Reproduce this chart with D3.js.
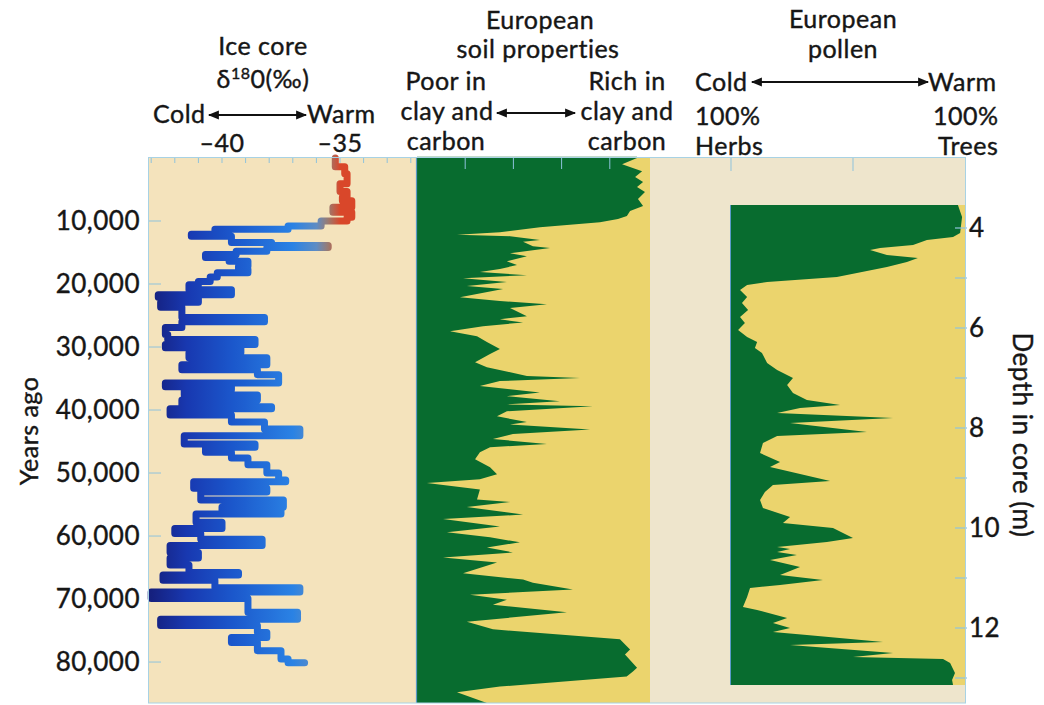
<!DOCTYPE html>
<html>
<head>
<meta charset="utf-8">
<script src="https://cdn.jsdelivr.net/npm/d3@7"></script>
<style>
  html, body { margin: 0; padding: 0; background: #ffffff; }
  svg text { font-family: "Lato", "Open Sans", sans-serif; fill: #161616; stroke: #161616; stroke-width: 0.4px; letter-spacing: 0.5px; }
</style>
</head>
<body>
<svg id="chart" width="1044" height="705"></svg>
<script>
// ---- Ice core oxygen isotope record (years ago, δ18O per mille) ----
const iceAge = [0,1400,2500,4100,5300,6200,6800,7800,8600,9400,10000,10800,11300,12100,12400,13400,13900,14200,14800,15300,15800,16400,17200,17700,18200,18900,19600,20100,20900,21700,22100,22900,23700,25300,26000,26900,28000,28800,29600,30100,30900,31700,32800,33600,34400,35700,36300,36800,37600,38400,39500,39800,40800,41900,43000,44100,45400,45900,46700,47600,48700,50000,51100,51400,52400,53000,54300,55400,56100,56500,57800,58800,59600,60500,61500,62600,63500,64600,65800,66200,67000,68200,68900,69900,72100,73200,74200,75300,76100,76900,78200,79500,80100];
const iceD18O = [-35.2,-34.8,-34.7,-35.0,-34.7,-34.9,-34.5,-35.3,-34.5,-34.7,-35.8,-37.2,-40.3,-41.3,-39.6,-37.9,-35.5,-38.1,-39.4,-40.7,-39.7,-38.9,-39.3,-38.9,-40.2,-40.5,-41.0,-41.4,-39.6,-42.7,-41.0,-42.6,-41.7,-38.2,-41.7,-42.4,-42.3,-38.6,-42.4,-39.2,-41.4,-38.1,-41.7,-38.5,-37.6,-42.4,-39.6,-41.6,-38.5,-41.7,-37.9,-42.2,-39.6,-38.2,-36.7,-41.6,-38.6,-40.7,-39.6,-38.9,-38.1,-37.6,-37.3,-41.2,-38.1,-40.9,-37.4,-40.0,-37.5,-41.1,-40.0,-42.0,-40.9,-38.3,-42.2,-41.0,-42.2,-41.4,-39.3,-42.5,-40.3,-36.7,-43.0,-38.9,-36.8,-42.6,-38.5,-38.1,-39.6,-38.5,-37.5,-37.2,-36.5];

// ---- European soil properties (years ago, clay/carbon index 0-100) ----
const soilAge = [0,1000,2100,3000,3800,4600,5400,6500,7600,8400,9200,9700,10200,11000,11800,12200,12400,13000,13300,14000,14300,15100,15600,16400,17000,17600,18100,18600,19100,19700,20300,20800,22100,22700,23200,23800,25100,25600,26100,26700,27500,28300,29200,30300,31100,32400,33200,34600,34900,35400,36200,36700,37200,37800,38600,39100,39400,40200,41000,41900,42300,43100,43800,44600,45400,45900,46700,47800,49100,50200,51000,51600,52600,54200,54600,55400,56600,57300,58500,59400,60200,61000,61800,62600,63400,64200,65900,66900,67400,68500,69300,70100,70900,72100,73600,74800,76400,78000,78800,80900,81500,82300,83900,84800,86500];
const soilIndex = [91.3,85.1,93.4,90.5,93.8,91.3,94.6,91.7,93.8,88.4,87.1,83.4,75.9,51.0,34.4,16.6,38.6,51.0,44.0,48.1,55.2,38.6,45.6,37.3,41.5,34.4,26.1,45.6,19.1,37.3,20.7,35.7,17.8,34.4,53.9,38.6,45.6,34.4,44.0,27.4,13.7,24.9,29.0,34.4,30.3,24.1,29.0,45.6,67.6,34.4,26.1,38.6,51.0,37.3,59.3,37.3,73.0,37.3,33.2,45.6,38.6,71.8,39.8,31.5,53.9,30.3,26.1,24.1,30.3,33.2,26.1,4.1,26.1,24.9,38.6,20.7,44.0,10.8,34.4,12.4,30.3,42.7,29.0,39.8,10.8,33.2,19.1,44.0,48.1,64.7,22.0,37.3,31.5,62.2,20.7,31.5,84.2,88.4,86.3,91.3,89.6,87.0,34.4,16.6,29.0];

// ---- European pollen (depth in core m, % tree pollen) ----
const pollenDepth = [3.54,3.78,4.10,4.18,4.24,4.34,4.40,4.44,4.54,4.60,4.68,4.78,4.98,5.08,5.14,5.24,5.38,5.50,5.64,5.78,5.90,6.04,6.18,6.28,6.40,6.50,6.70,6.84,7.00,7.14,7.30,7.44,7.54,7.60,7.70,7.80,7.90,8.08,8.16,8.30,8.50,8.68,8.78,9.06,9.14,9.28,9.44,9.60,9.78,9.90,10.00,10.20,10.28,10.38,10.42,10.48,10.54,10.64,10.78,10.94,11.04,11.14,11.20,11.38,11.58,11.64,11.80,11.90,12.00,12.08,12.14,12.28,12.34,12.50,12.58,12.62,12.70,12.90,13.04,13.14];
const pollenTrees = [93.0,94.7,93.9,91.0,80.3,74.6,61.1,57.0,63.9,76.6,72.1,63.9,43.4,14.8,6.6,3.7,6.6,4.5,7.0,3.7,5.7,2.9,6.6,10.7,9.8,12.7,14.8,18.9,25.4,23.0,25.4,31.1,44.7,28.3,18.9,66.4,24.2,55.7,18.9,13.1,11.9,20.1,16.0,40.6,17.2,13.9,11.9,13.1,24.2,21.3,41.8,50.0,39.3,18.9,24.2,18.9,27.0,16.0,28.3,20.1,37.7,20.1,7.8,6.6,4.9,10.7,23.0,17.2,24.2,17.2,31.1,62.3,24.2,66.4,50.0,86.9,89.8,91.8,90.6,91.0];

// ---- Axis ticks ----
const ageTicks = [10000,20000,30000,40000,50000,60000,70000,80000];
const iceTicks = [-43,-42,-41,-40,-39,-38,-37,-36,-35,-34,-33,-32];
const iceLabels = [-40,-35];
const soilTicks = [20,40,60,80];
const pollenTicks = [0,50];
const depthTicks = [4,5,6,7,8,9,10,11,12,13];
const depthLabels = [4,6,8,10,12];

// ---- Layout ----
const panelTop = 157, panelBottom = 703;
const iceLeft = 148, iceRight = 416;
const soilLeft = 417, soilRight = 650;
const pollenRight = 966;

const C = {
  iceBg: "#f4e3bc", paleBg: "#eee5cc", green: "#086c2f", yellow: "#ebd46d",
  frame: "#a8d2e4", tick: "#8fc3dc"
};

const svg = d3.select("#chart");

const yAge = d3.scaleLinear().domain([0, 86500]).range([158, 703]);
const xIce = d3.scaleLinear().domain([-40, -35]).range([222, 340]);
const xSoil = d3.scaleLinear().domain([0, 100]).range([soilLeft, 658]);
const xPollen = d3.scaleLinear().domain([0, 100]).range([731, 975]);
const yDepth = d3.scaleLinear().domain([4, 12]).range([228, 628]);

// backgrounds
svg.append("rect").attr("x", iceLeft).attr("y", panelTop).attr("width", iceRight - iceLeft).attr("height", panelBottom - panelTop).attr("fill", C.iceBg);
svg.append("rect").attr("x", soilRight).attr("y", panelTop).attr("width", pollenRight - soilRight).attr("height", panelBottom - panelTop).attr("fill", C.paleBg);

// ---- Soil panel ----
svg.append("rect").attr("x", soilLeft).attr("y", panelTop).attr("width", soilRight - soilLeft).attr("height", panelBottom - panelTop).attr("fill", C.yellow);
const soilData = soilAge.map((a, i) => ({ a, v: soilIndex[i] }));
const soilArea = d3.area()
  .y(d => yAge(d.a))
  .x0(xSoil(0))
  .x1(d => xSoil(d.v));
svg.append("path").datum([{ a: -200, v: soilData[0].v }, ...soilData]).attr("d", soilArea).attr("fill", C.green);
svg.append("g").selectAll("line").data(soilTicks).join("line")
  .attr("x1", d => xSoil(d)).attr("x2", d => xSoil(d))
  .attr("y1", panelTop).attr("y2", panelTop + 12)
  .attr("stroke", C.tick).attr("stroke-width", 1);
svg.append("line").attr("x1", soilLeft - 0.5).attr("x2", soilLeft - 0.5).attr("y1", panelTop).attr("y2", panelBottom)
  .attr("stroke", "#5a9ac8").attr("stroke-width", 1.2);

// ---- Pollen panel ----
const pTop = yDepth(pollenDepth[0]), pBot = yDepth(pollenDepth[pollenDepth.length - 1]);
svg.append("rect").attr("x", xPollen(0)).attr("y", pTop).attr("width", pollenRight - xPollen(0)).attr("height", pBot - pTop).attr("fill", C.yellow);
const pollenData = pollenDepth.map((d, i) => ({ d, v: pollenTrees[i] }));
const pollenArea = d3.area()
  .y(d => yDepth(d.d))
  .x0(xPollen(0))
  .x1(d => xPollen(d.v));
svg.append("path").datum(pollenData).attr("d", pollenArea).attr("fill", C.green);
svg.append("line").attr("x1", xPollen(0) - 0.5).attr("x2", xPollen(0) - 0.5).attr("y1", pTop).attr("y2", pBot)
  .attr("stroke", "#5a9ac8").attr("stroke-width", 1);
svg.append("g").selectAll("line").data(pollenTicks).join("line")
  .attr("x1", d => xPollen(d)).attr("x2", d => xPollen(d))
  .attr("y1", panelTop).attr("y2", panelTop + 14)
  .attr("stroke", C.tick).attr("stroke-width", 1);

// depth axis on the right
svg.append("g").selectAll("line").data(depthTicks).join("line")
  .attr("x1", pollenRight - 11).attr("x2", pollenRight + 1)
  .attr("y1", d => yDepth(d)).attr("y2", d => yDepth(d))
  .attr("stroke", C.tick).attr("stroke-width", 1.2);
svg.append("g").selectAll("text").data(depthLabels).join("text")
  .attr("x", pollenRight + 3).attr("y", d => yDepth(d)).attr("dy", "0.36em")
  .attr("font-size", 26).text(d => d);
svg.append("text")
  .attr("transform", `translate(1013,435) rotate(90)`)
  .attr("text-anchor", "middle").attr("font-size", 26)
  .text("Depth in core (m)");

// ---- Ice core panel ----
svg.append("g").selectAll("line").data(iceTicks).join("line")
  .attr("x1", d => xIce(d)).attr("x2", d => xIce(d))
  .attr("y1", panelTop).attr("y2", panelTop + 6)
  .attr("stroke", C.tick).attr("stroke-width", 1);
svg.append("g").selectAll("line").data(ageTicks).join("line")
  .attr("x1", iceLeft).attr("x2", iceLeft + 13)
  .attr("y1", d => yAge(d)).attr("y2", d => yAge(d))
  .attr("stroke", C.tick).attr("stroke-width", 1);

// colour runs from cold (dark blue) to warm (red) along the δ18O axis
const tempColor = d3.scaleLinear()
  .domain([-43, -41.5, -39.5, -37, -36, -35.5, -35])
  .range(["#15207e", "#1838b0", "#1b58cc", "#2a82e4", "#5d8cc4", "#9a7a70", "#d9472a"]);
const defs = svg.append("defs");
const grad = defs.append("linearGradient").attr("id", "iceGrad")
  .attr("gradientUnits", "userSpaceOnUse")
  .attr("x1", xIce(-43.5)).attr("x2", xIce(-34)).attr("y1", 0).attr("y2", 0);
const gStops = d3.range(-43.5, -33.9, 0.25);
grad.selectAll("stop").data(gStops).join("stop")
  .attr("offset", d => (d + 43.5) / 9.5)
  .attr("stop-color", d => tempColor(Math.max(-43, Math.min(-35, d))));

const iceData = iceAge.map((a, i) => ({ a, v: iceD18O[i] }));
const iceLine = d3.line().curve(d3.curveStepBefore).x(d => xIce(d.v)).y(d => yAge(d.a));
svg.append("path").datum(iceData).attr("d", iceLine)
  .attr("fill", "none").attr("stroke", "url(#iceGrad)")
  .attr("stroke-width", 7).attr("stroke-linejoin", "round").attr("stroke-linecap", "round");

// frame
svg.append("rect").attr("x", iceLeft + 0.5).attr("y", panelTop + 0.5)
  .attr("width", pollenRight - iceLeft - 1).attr("height", panelBottom - panelTop - 0.5)
  .attr("fill", "none").attr("stroke", C.frame).attr("stroke-width", 1);

// age labels
svg.append("g").selectAll("text").data(ageTicks).join("text")
  .attr("x", 140).attr("y", d => yAge(d)).attr("dy", "0.36em")
  .attr("text-anchor", "end").attr("font-size", 26)
  .text(d => d3.format(",")(d));
svg.append("text")
  .attr("transform", `translate(38,431) rotate(-90)`)
  .attr("text-anchor", "middle").attr("font-size", 25)
  .text("Years ago");

// ---- Headers ----
const fs = 25;
function label(x, y, txt, anchor) {
  return svg.append("text").attr("x", x).attr("y", y)
    .attr("text-anchor", anchor || "middle").attr("font-size", fs).text(txt);
}
defs.append("marker").attr("id", "head").attr("viewBox", "0 0 10 10")
  .attr("refX", 9).attr("refY", 5).attr("markerWidth", 6.5).attr("markerHeight", 5)
  .attr("markerUnits", "strokeWidth").attr("orient", "auto-start-reverse")
  .append("path").attr("d", "M0,1 L10,5 L0,9 Z").attr("fill", "#111");
function arrow(x1, x2, y) {
  svg.append("line").attr("x1", x1).attr("x2", x2).attr("y1", y).attr("y2", y)
    .attr("stroke", "#111").attr("stroke-width", 2.2)
    .attr("marker-start", "url(#head)").attr("marker-end", "url(#head)");
}

// ice core header
label(263, 55, "Ice core");
const dl = svg.append("text").attr("x", 263).attr("y", 88).attr("text-anchor", "middle").attr("font-size", fs);
dl.append("tspan").text("δ");
dl.append("tspan").attr("font-size", 16).attr("dy", -9).text("18");
dl.append("tspan").attr("dy", 9).text("0(‰)");
label(153, 123, "Cold", "start");
arrow(209, 306, 115);
label(307, 123, "Warm", "start");
svg.append("g").selectAll("text").data(iceLabels).join("text")
  .attr("x", d => xIce(d)).attr("y", 152).attr("text-anchor", "middle").attr("font-size", fs)
  .text(d => "\u2013" + Math.abs(d));

// soil header
label(540, 29, "European");
label(538, 58, "soil properties");
label(446, 90, "Poor in");
label(447, 120, "clay and");
label(446, 150, "carbon");
arrow(497, 575, 113);
label(627, 90, "Rich in");
label(627, 120, "clay and");
label(627, 150, "carbon");

// pollen header
label(843, 28, "European");
label(843, 58, "pollen");
label(695, 91, "Cold", "start");
arrow(752, 928, 82);
label(928, 91, "Warm", "start");
label(695, 125, "100%", "start");
label(695, 155, "Herbs", "start");
label(933, 125, "100%", "start");
label(938, 155, "Trees", "start");
</script>
</body>
</html>
